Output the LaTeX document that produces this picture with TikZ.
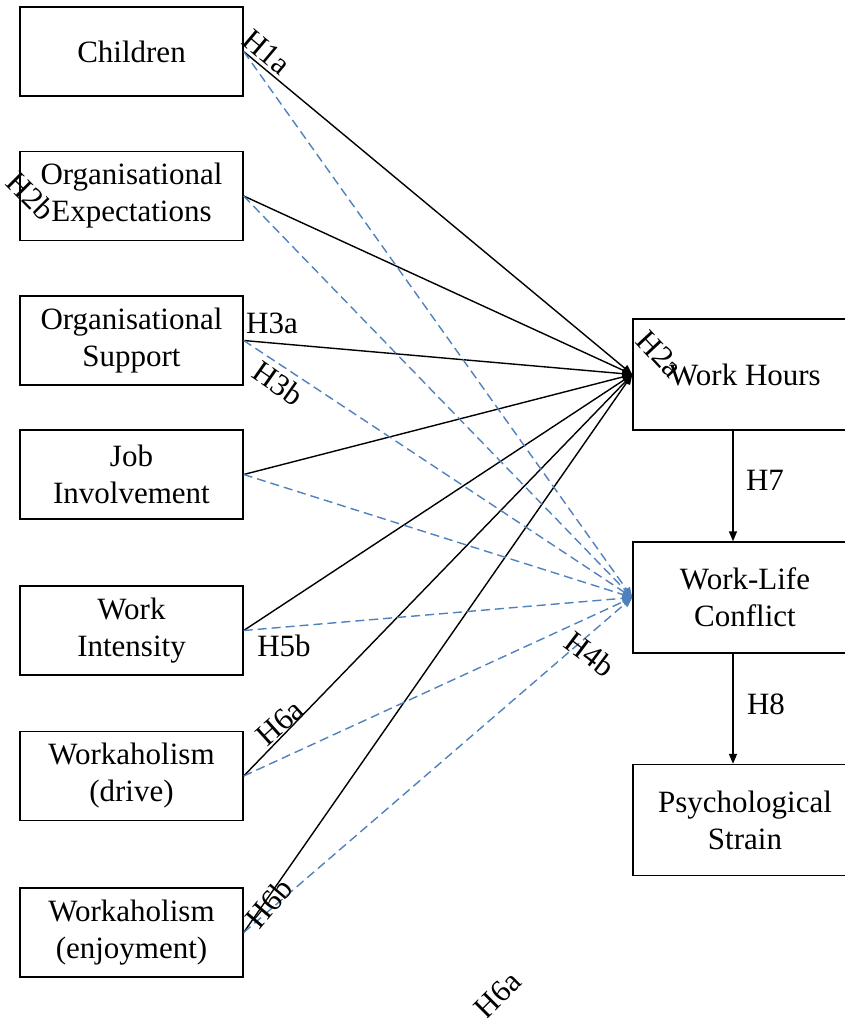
\documentclass[tikz,border=0pt]{standalone}
\usepackage{fontspec}
\setmainfont{Liberation Serif}
\usepackage{xcolor}
\usetikzlibrary{positioning,arrows.meta,calc}
\definecolor{linkblue}{RGB}{79,129,189}

\tikzset{
    txt/.style={font=\fontsize{15.5}{18.5}\selectfont},
    leftbox/.style={txt, draw, line width=0.7pt, align=center, inner sep=0pt,
        minimum width=111.5pt, minimum height=44.5pt},
    rightbox/.style={txt, draw, line width=0.7pt, align=center, inner sep=0pt,
        minimum width=112pt, minimum height=55.5pt},
    hyp/.style={txt, inner sep=0pt},
    toHours/.style={line width=0.7pt, -{Triangle[length=5pt,width=4pt]}},
    toConflict/.style={line width=0.7pt, linkblue, dash pattern=on 4.5pt off 2.5pt,
        -{Triangle[length=5pt,width=4pt]}}
}

\begin{document}
\begin{tikzpicture}[x=0.5pt, y=-0.5pt]
        \useasboundingbox (0,0) rectangle (845,1018);
        % Antecedentes (coluna da esquerda)
        \node[leftbox] (children) at (131.5,51.5) {Children};
        \node[leftbox] (orgexp) at (131.5,196) {Organisational\\Expectations};
        \node[leftbox] (orgsup) at (131.5,340.5) {Organisational\\Support};
        \node[leftbox] (jobinv) at (131.5,474.5) {Job\\Involvement};
        \node[leftbox] (workint) at (131.5,630.5) {Work\\Intensity};
        \node[leftbox] (wkdrive) at (131.5,776) {Workaholism\\(drive)};
        \node[leftbox] (wkenjoy) at (131.5,932.5) {Workaholism\\(enjoyment)};
        % Resultados (coluna da direita)
        \node[rightbox] (hours) at (745,374.5) {Work Hours};
        \node[rightbox] (conflict) at (745,597.5) {Work-Life\\Conflict};
        \node[rightbox] (strain) at (745,820) {Psychological\\Strain};
        % Efeitos sobre as horas de trabalho
        \draw[toHours] (children.east) -- (hours.west);
        \draw[toHours] (orgexp.east) -- (hours.west);
        \draw[toHours] (orgsup.east) -- (hours.west);
        \draw[toHours] (jobinv.east) -- (hours.west);
        \draw[toHours] (workint.east) -- (hours.west);
        \draw[toHours] (wkdrive.east) -- (hours.west);
        \draw[toHours] (wkenjoy.east) -- (hours.west);
        % Efeitos sobre o conflito trabalho-vida
        \draw[toConflict] (children.east) -- (conflict.west);
        \draw[toConflict] (orgexp.east) -- (conflict.west);
        \draw[toConflict] (orgsup.east) -- (conflict.west);
        \draw[toConflict] (jobinv.east) -- (conflict.west);
        \draw[toConflict] (workint.east) -- (conflict.west);
        \draw[toConflict] (wkdrive.east) -- (conflict.west);
        \draw[toConflict] (wkenjoy.east) -- (conflict.west);
        % Cadeia da direita
        \draw[toHours] ([xshift=-6pt]hours.south) -- ([xshift=-6pt]conflict.north);
        \draw[toHours] ([xshift=-6pt]conflict.south) -- ([xshift=-6pt]strain.north);
        % Hipoteses
        \node[hyp, rotate=-40] (h1a) at (267,52) {H1a};
        \node[hyp, rotate=-45] (h2b) at (31,196) {H2b};
        \node[hyp] (h3a) at (272,323) {H3a};
        \node[hyp, rotate=-35] (h3b) at (278,383) {H3b};
        \node[hyp] (h5b) at (284,646) {H5b};
        \node[hyp, rotate=42] (h6a) at (280,723) {H6a};
        \node[hyp, rotate=50] (h6b) at (269,903) {H6b};
        \node[hyp, rotate=-47] (h2a) at (660,354) {H2a};
        \node[hyp, rotate=-37] (h4b) at (590,654) {H4b};
        \node[hyp, rotate=45] (h6alow) at (498,995) {H6a};
        \node[hyp] (h7) at (765,480) {H7};
        \node[hyp] (h8) at (766,704) {H8};
    \end{tikzpicture}
\end{document}
